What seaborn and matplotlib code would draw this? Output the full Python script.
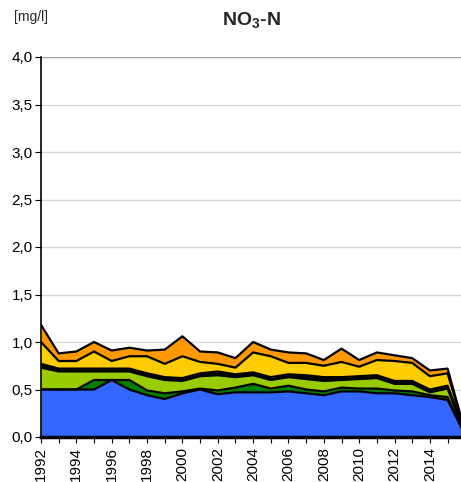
import matplotlib
matplotlib.use("Agg")
import matplotlib.pyplot as plt
import matplotlib.ticker as mticker
import seaborn as sns
import numpy as np

# cumulative upper edge of each stacked layer [mg/l]
years = list(range(1992, 2017))
blue_top = [0.50, 0.50, 0.50, 0.50, 0.60, 0.50, 0.44, 0.40, 0.46, 0.50, 0.45, 0.47, 0.47,
            0.47, 0.48, 0.46, 0.44, 0.48, 0.48, 0.46, 0.46, 0.44, 0.42, 0.39, 0.02]
dgreen_top = [0.50, 0.50, 0.50, 0.60, 0.60, 0.60, 0.49, 0.46, 0.48, 0.51, 0.49, 0.52, 0.56,
              0.51, 0.54, 0.50, 0.48, 0.52, 0.51, 0.51, 0.49, 0.48, 0.44, 0.42, 0.02]
lgreen_top = [0.73, 0.69, 0.69, 0.69, 0.69, 0.69, 0.64, 0.60, 0.59, 0.64, 0.65, 0.63, 0.65,
              0.60, 0.63, 0.61, 0.59, 0.60, 0.61, 0.62, 0.56, 0.56, 0.47, 0.51, 0.03]
black_top = [0.77, 0.72, 0.72, 0.72, 0.72, 0.72, 0.67, 0.63, 0.62, 0.67, 0.69, 0.66, 0.68,
             0.63, 0.66, 0.65, 0.63, 0.63, 0.64, 0.65, 0.59, 0.59, 0.50, 0.54, 0.05]
yellow_top = [1.00, 0.80, 0.80, 0.90, 0.80, 0.85, 0.85, 0.77, 0.85, 0.79, 0.77, 0.73, 0.89,
              0.85, 0.78, 0.78, 0.75, 0.79, 0.74, 0.81, 0.80, 0.78, 0.64, 0.67, 0.05]
orange_top = [1.18, 0.88, 0.90, 1.00, 0.91, 0.94, 0.91, 0.92, 1.06, 0.90, 0.89, 0.83, 1.00,
              0.92, 0.89, 0.88, 0.81, 0.93, 0.81, 0.89, 0.86, 0.83, 0.70, 0.72, 0.05]

layer_colors = ["#3366FF", "#008000", "#99CC00", "#000000", "#FFCC00", "#FF9900"]
y_ticks = [0.0, 0.5, 1.0, 1.5, 2.0, 2.5, 3.0, 3.5, 4.0]
year_labels = list(range(1992, 2015, 2))

sns.set_theme(style="white")
plt.rcParams["font.family"] = ["Liberation Sans", "DejaVu Sans"]
plt.rcParams["mathtext.fontset"] = "custom"
plt.rcParams["mathtext.rm"] = "Liberation Sans"
plt.rcParams["mathtext.bf"] = "Liberation Sans:bold"

fig = plt.figure(figsize=(4.61, 4.82), dpi=100)
ax = fig.add_axes([41 / 461, 45 / 482, 420 / 461, 380 / 482])

tops = [blue_top, dgreen_top, lgreen_top, black_top, yellow_top, orange_top]
lower = np.zeros(len(years))
for top, col in zip(tops, layer_colors):
    ax.fill_between(years, lower, top, color=col, linewidth=0, zorder=2)
    lower = np.array(top)

for top in tops:
    sns.lineplot(x=years, y=top, ax=ax, color="black", linewidth=1.6, zorder=3)

ax.set_xlim(1992, 2015.76)
ax.set_ylim(0, 4.0)
ax.set_yticks(y_ticks)
ax.yaxis.set_major_formatter(mticker.FuncFormatter(lambda v, p: f"{v:.1f}".replace(".", ",")))
ax.set_xticks(year_labels)
ax.set_xticklabels([str(y) for y in year_labels], rotation=90)
ax.xaxis.set_minor_locator(mticker.MultipleLocator(1))
ax.tick_params(axis="both", which="both", direction="out", length=4, width=0.8,
               colors="black", labelsize=11, pad=2)
ax.tick_params(axis="x", which="major", pad=3)
ax.tick_params(bottom=True, left=True)
ax.tick_params(axis="x", which="minor", bottom=True, length=4)

ax.grid(axis="y", color="#D9D9D9", linewidth=1.0, zorder=0)
ax.set_axisbelow(True)
for s in ["top", "right"]:
    ax.spines[s].set_visible(False)
ax.spines["left"].set_color("black")
ax.spines["left"].set_linewidth(1.2)
ax.spines["bottom"].set_color("black")
ax.spines["bottom"].set_linewidth(2.5)
ax.axhline(4.0, color="#A0A0A0", linewidth=1.0, zorder=1)

fig.text(251 / 461, 1 - 21 / 482, r"NO$_\mathbf{3}$-N", ha="center", va="center",
         fontsize=14, fontweight="bold")
fig.text(14 / 461, 1 - 17 / 482, "[mg/l]", ha="left", va="center", fontsize=10)

fig.savefig("out.png", dpi=100)
